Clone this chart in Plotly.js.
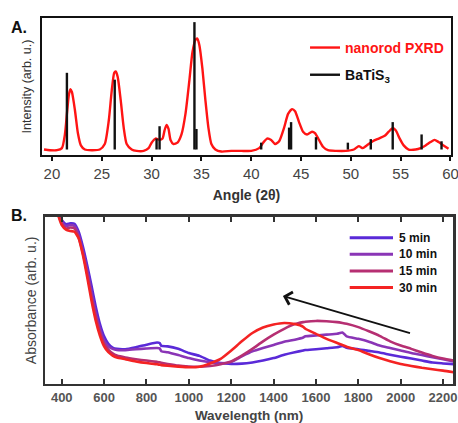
<!DOCTYPE html>
<html>
<head>
<meta charset="utf-8">
<script src="https://cdn.plot.ly/plotly-3.0.1.min.js"></script>
<style>html,body{margin:0;padding:0;background:#fff;}#chart{width:458px;height:423px;}</style>
</head>
<body>
<div id="chart"></div>
<script>
// ---------- Panel A: PXRD ----------
var xrdAngle = [19.2,19.8,20.5,21.0,21.3,21.5,21.7,21.85,22.0,22.3,22.6,22.9,23.3,24.0,24.8,25.3,25.7,26.0,26.25,26.4,26.6,26.9,27.2,27.5,28.0,28.5,29.2,29.7,30.0,30.4,30.8,31.1,31.3,31.5,31.7,31.9,32.2,32.6,33.0,33.4,33.8,34.1,34.4,34.6,34.8,35.1,35.4,35.7,36.0,36.4,37.0,38.0,39.0,40.0,40.8,41.2,41.6,42.0,42.4,42.8,43.3,43.7,44.1,44.4,44.8,45.2,45.6,46.1,46.4,46.8,47.2,47.7,48.5,49.5,50.3,50.8,51.2,51.6,52.2,52.8,53.4,53.8,54.2,54.5,54.9,55.3,55.8,56.5,57.0,57.5,58.0,58.4,58.8,59.3,59.8];
var xrdIntensity = [4,3.5,3.5,5,15,30,44,48,46,33,16,7,4,3.5,4,8,25,47,60,61,57,40,20,8,4,3,3,5,9,12,11,12,18,22,19,11,8,9,15,30,55,75,84,85,80,63,40,20,8,4,2.5,3,3,3,5,9,12,11,8,10,20,30,33.5,32,24,17,15,17,16,11,6,3.5,3,3,4,6.5,5,7,10,12,14,17,19.5,18,12,7,4,4,5,7,9.5,11,9.5,7,4.5];
var stickAngle = [21.5,26.3,30.5,30.8,34.3,34.5,41.0,43.8,44.0,46.5,49.7,52.0,54.2,57.1,59.1];
var stickHeight = [60,55,12,21,97,19,9,20,24,13,9,11.6,24,15,10];
var stickBase = 4;

// ---------- Panel B: absorbance ----------
var wavelength = [380,400,420,440,460,480,500,520,540,560,580,600,620,640,660,700,750,800,850,862,870,900,950,1000,1050,1100,1150,1200,1250,1300,1350,1400,1450,1500,1540,1550,1600,1650,1700,1725,1745,1800,1850,1900,1950,2000,2050,2100,2150,2200,2250];
var abs5 = [103,98,95.5,96,95.8,91,82,71,59,46.5,36,28.5,24,21.8,21,20.8,22,23.5,24.8,24.5,22.8,22.5,21,18.5,16.8,14,12.5,12,12.2,12.9,14,15.5,17.5,19,20,20.3,20.8,21.4,22,22.8,21.6,20.8,19.8,18.8,17.5,16.3,15.2,14,12.8,12.3,11.9];
var abs10 = [103,97,94.5,95,94.5,89,79.5,68,55,42.5,33,26,22.5,21,20.3,20.2,20.8,21.2,21.5,21.3,19.6,19,17.3,15.5,14,13,12.3,13.2,16.5,19.5,21.5,23.3,25.3,26.5,27.8,28.5,29,29.5,30,30.8,28.5,27,25.3,23,21.5,20,18.5,17.3,16,14.8,13.5];
var abs15 = [103,96,93,93.5,93,87.5,78,66,52.5,40.5,31,24,20.5,18.3,17,15.8,14.8,14,13.2,13,12.7,12,11,10.5,10.3,10.8,11.8,13.5,17,21,25.5,29.5,33,35.8,37,37.2,37.7,37.5,37,36.5,36,34,31.5,28.8,25.5,23,21,18.8,16.8,15.2,14];
var abs30 = [102,95,92.3,91.5,91,87,77,64,50,38,29,22.5,19,17,15.8,14.8,13.5,12.5,11.8,11.5,11.3,10.9,10.4,10,10.3,12.3,15,20,25.5,30.5,33.8,35.6,36.5,35.8,34.2,33,30,27,24.5,23.3,22.3,20.3,17.8,15.5,13.6,12,10.8,9.7,8.8,8,7];
var seriesNames = ['5 min','10 min','15 min','30 min'];
var seriesColors = ['#5a2ad8','#8a35b6','#b62f72','#f42323'];
var arrowTail = [2051, 30.2];
var arrowHead = [1444, 52.6];

var stickX = [], stickY = [];
for (var i = 0; i < stickAngle.length; i++) {
  stickX.push(stickAngle[i], stickAngle[i], null);
  stickY.push(stickBase, stickHeight[i], null);
}

var traces = [
  {x: xrdAngle, y: xrdIntensity, type: 'scatter', mode: 'lines', xaxis: 'x', yaxis: 'y',
   name: '<span style="color:#ff1414">nanorod PXRD</span>', legend: 'legend', legendgroup: 'a1',
   line: {color: '#ff1414', width: 2.4, shape: 'spline', smoothing: 0.6}},
  {x: stickX, y: stickY, type: 'scatter', mode: 'lines', xaxis: 'x', yaxis: 'y',
   name: 'BaTiS<sub>3</sub>', legend: 'legend', legendgroup: 'a2',
   line: {color: '#111', width: 2.4}}
];
var absData = [abs5, abs10, abs15, abs30];
for (var k = 0; k < absData.length; k++) {
  traces.push({x: wavelength, y: absData[k], type: 'scatter', mode: 'lines', xaxis: 'x2', yaxis: 'y2',
    name: seriesNames[k], showlegend: false,
    line: {color: seriesColors[k], width: 2.6, shape: 'spline', smoothing: 0.5}});
}

// Panel B key (drawn in paper coordinates)
var keyTop = 1 - 237.7 / 423, keyStep = 16.6 / 423;
var keyX0 = 349.7 / 458, keyX1 = 393 / 458, keyTextX = 397 / 458;
var shapes = [], annotations = [
  {text: '<b>A.</b>', xref: 'paper', yref: 'paper', x: 0.02, y: 0.96, xanchor: 'left', yanchor: 'top',
   showarrow: false, font: {size: 16, color: '#111'}},
  {text: '<b>B.</b>', xref: 'paper', yref: 'paper', x: 0.02, y: 0.515, xanchor: 'left', yanchor: 'top',
   showarrow: false, font: {size: 16, color: '#111'}},
  {text: '', xref: 'x2', yref: 'y2', axref: 'x2', ayref: 'y2',
   x: arrowHead[0], y: arrowHead[1], ax: arrowTail[0], ay: arrowTail[1],
   showarrow: true, arrowhead: 4, arrowsize: 1.4, arrowwidth: 1.8, arrowcolor: '#111'}
];
for (var j = 0; j < seriesNames.length; j++) {
  var yk = keyTop - j * keyStep;
  shapes.push({type: 'line', xref: 'paper', yref: 'paper', x0: keyX0, x1: keyX1, y0: yk, y1: yk,
    line: {color: seriesColors[j], width: 3}});
  annotations.push({text: '<b>' + seriesNames[j] + '</b>', xref: 'paper', yref: 'paper', x: keyTextX, y: yk,
    xanchor: 'left', yanchor: 'middle', showarrow: false, font: {size: 12, color: '#111'}});
}

var layout = {
  width: 458, height: 423,
  margin: {l: 0, r: 0, t: 0, b: 0},
  paper_bgcolor: '#fff', plot_bgcolor: '#fff',
  font: {family: 'Liberation Sans, Arial, sans-serif', color: '#333'},
  xaxis: {domain: [0.0917, 0.9847], range: [19.0, 60.05], anchor: 'y',
    showline: true, mirror: true, linecolor: '#111', linewidth: 2,
    ticks: 'outside', ticklen: 4, tickwidth: 2, tickcolor: '#111',
    tickvals: [20,25,30,35,40,45,50,55,60], showgrid: false, zeroline: false,
    ticklabeloverflow: 'allow',
    tickfont: {size: 15, color: '#444'},
    title: {text: 'Angle (2θ)', font: {size: 14, color: '#333', weight: 'bold'}, standoff: 9}},
  yaxis: {domain: [0.6336, 0.9574], range: [0, 100], anchor: 'x',
    showline: true, mirror: true, linecolor: '#111', linewidth: 2,
    showticklabels: false, ticks: '', showgrid: false, zeroline: false,
    title: {text: 'Intensity (arb. u.)', font: {size: 12.5, color: '#333'}, standoff: 6}},
  xaxis2: {domain: [0.0983, 0.9891], range: [321, 2247], anchor: 'y2',
    showline: true, mirror: 'ticks', linecolor: '#333', linewidth: 2.5,
    ticks: 'inside', ticklen: 5, tickwidth: 2, tickcolor: '#333',
    tickvals: [400,600,800,1000,1200,1400,1600,1800,2000,2200], showgrid: false, zeroline: false,
    ticklabeloverflow: 'allow',
    tickfont: {size: 13, color: '#555', weight: 'bold'},
    title: {text: 'Wavelength (nm)', font: {size: 13.5, color: '#444', weight: 'bold'}, standoff: 7}},
  yaxis2: {domain: [0.0922, 0.4877], range: [0, 100], anchor: 'x2',
    showline: true, mirror: true, linecolor: '#333', linewidth: 2.5,
    showticklabels: false, ticks: '', showgrid: false, zeroline: false,
    title: {text: 'Absorbance (arb. u.)', font: {size: 14, color: '#444'}, standoff: 3}},
  showlegend: true,
  legend: {x: 0.666, y: 0.9245, xanchor: 'left', yanchor: 'top', bgcolor: 'rgba(0,0,0,0)',
    font: {size: 14, color: '#111', weight: 'bold'}, tracegroupgap: 6},
  shapes: shapes,
  annotations: annotations
};

Plotly.newPlot('chart', traces, layout, {displayModeBar: false, staticPlot: true});
</script>
</body>
</html>
